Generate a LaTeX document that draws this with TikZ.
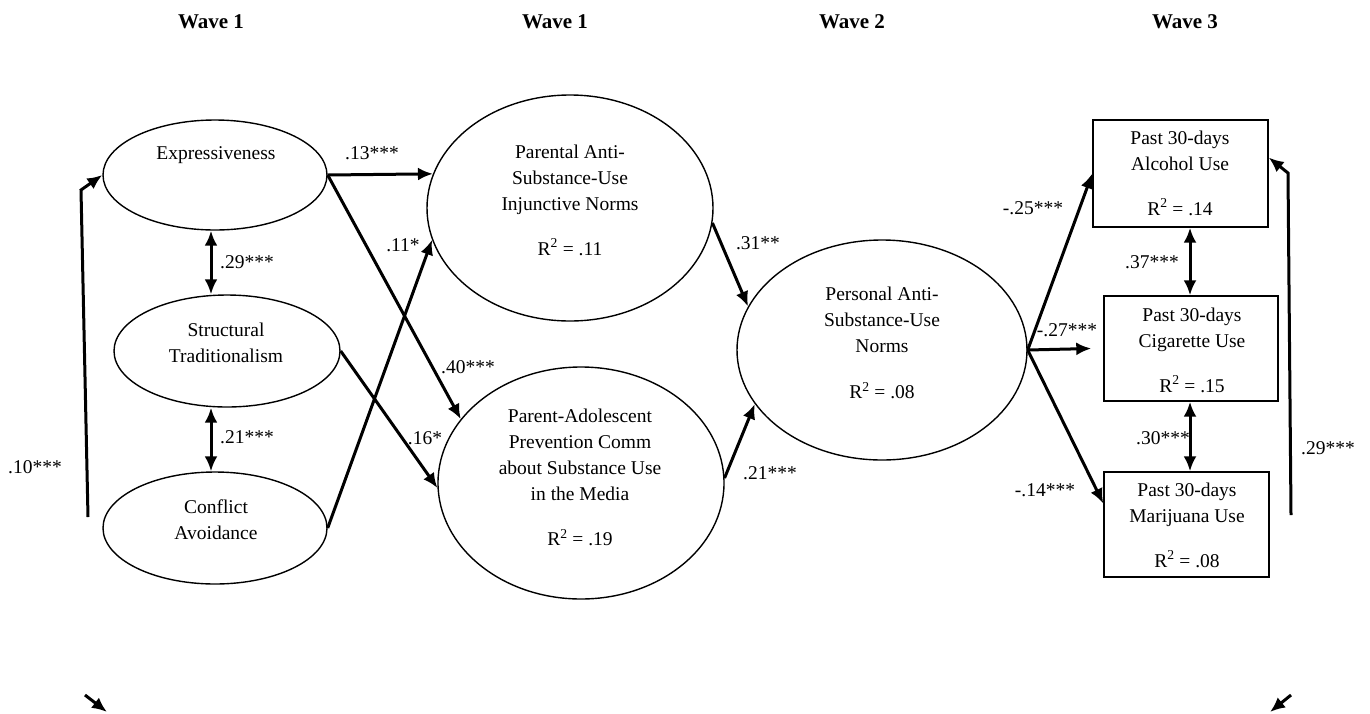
\documentclass[tikz,border=0pt]{standalone}
\usepackage{fontspec}
\setmainfont{Liberation Serif}
\usetikzlibrary{shapes.geometric,arrows.meta,calc}
\begin{document}
\begin{tikzpicture}[x=1pt,y=-1pt,
  font=\fontsize{19.5}{26}\selectfont,
  ell/.style={draw,ellipse,line width=1.4pt,inner sep=0pt},
  box/.style={draw,rectangle,line width=1.4pt,inner sep=0pt},
  txt/.style={align=center,inner sep=0pt},
  lab/.style={inner sep=0pt},
  head/.style={font=\fontsize{21}{24}\selectfont\bfseries,inner sep=0pt},
  arr/.style={line width=3pt,-{Latex[length=15pt,width=13pt]}},
  darr/.style={line width=3pt,{Latex[length=15pt,width=13pt]}-{Latex[length=15pt,width=13pt]}},
]
\path[use as bounding box] (0,0) rectangle (1370,713);

% headers
\node[head] (h1) at (211,22) {Wave 1};
\node[head] (h2) at (555,22) {Wave 1};
\node[head] (h3) at (852,22) {Wave 2};
\node[head] (h4) at (1185,22) {Wave 3};

% ellipses
\node[ell,minimum width=224pt,minimum height=110pt] (expr) at (215,175) {};
\node[ell,minimum width=226pt,minimum height=112pt] (stru) at (227,351) {};
\node[ell,minimum width=224pt,minimum height=112pt] (conf) at (215,528) {};
\node[ell,minimum width=286pt,minimum height=226pt] (pare) at (570,208) {};
\node[ell,minimum width=286pt,minimum height=232pt] (padc) at (581,483) {};
\node[ell,minimum width=290pt,minimum height=220pt] (pers) at (882,350) {};

% boxes
\node[box,minimum width=175pt,minimum height=107pt] (alc) at (1180.5,173.5) {};
\node[box,minimum width=174pt,minimum height=105pt] (cig) at (1191,348.5) {};
\node[box,minimum width=165pt,minimum height=105pt] (mar) at (1186.5,524.5) {};

% texts
\node[txt] (texpr) at (216,155) {Expressiveness};
\node[txt] (tstru) at (226,343) {Structural\\Traditionalism};
\node[txt] (tconf) at (216,519.5) {Conflict\\Avoidance};
\node[txt] (tpare) at (570,200) {Parental Anti-\\Substance-Use\\Injunctive Norms\\[19pt]R\textsuperscript{2} = .11};
\node[txt] (tpadc) at (580,477.5) {Parent-Adolescent\\Prevention Comm\\about Substance Use\\in the Media\\[19pt]R\textsuperscript{2} = .19};
\node[txt] (tpers) at (882,343) {Personal Anti-\\Substance-Use\\Norms\\[20pt]R\textsuperscript{2} = .08};
\node[txt] (talc) at (1180,173) {Past 30-days\\Alcohol Use\\[19pt]R\textsuperscript{2} = .14};
\node[txt] (tcig) at (1192,350) {Past 30-days\\Cigarette Use\\[19pt]R\textsuperscript{2} = .15};
\node[txt] (tmar) at (1187,525) {Past 30-days\\Marijuana Use\\[19pt]R\textsuperscript{2} = .08};

% correlations
\draw[darr] ([xshift=-4pt]expr.south) -- ([xshift=-4pt]expr.south |- stru.north);
\draw[darr] ([xshift=-16pt]stru.south) -- ([xshift=-16pt]stru.south |- conf.north);
\draw[darr] ([xshift=9.5pt]alc.south) -- ([xshift=9.5pt]alc.south |- cig.north);
\draw[darr] ([xshift=-1pt]cig.south) -- ([xshift=-1pt]cig.south |- mar.north);

% paths
\draw[arr] (expr.east) -- (pare.166.4);
\draw[arr] (expr.east) -- (padc.152);
\draw[arr] (conf.east) -- (pare.193);
\draw[arr] (stru.east) -- (padc.182);
\draw[arr] (pare.354) -- (pers.162.7);
\draw[arr] (padc.2.4) -- (pers.203.9);
\draw[arr] (pers.east) -- (alc.west);
\draw[arr] (pers.east) -- ([xshift=-12pt]cig.west);
\draw[arr] (pers.east) -- ($(mar.west)+(0,-21)$);

% disturbance-like arrows
\coordinate (l0) at (88,517);
\coordinate (l1) at (81,190);
\draw[arr] (l0) -- (l1) -- (expr.west);
\coordinate (r0) at (1291,515);
\coordinate (r1) at (1288,173);
\draw[arr] (r0) -- (r1) -- ($(alc.east)+(0,-16)$);
\coordinate (bl0) at (85,695);
\coordinate (bl1) at (107,712);
\draw[arr] (bl0) -- (bl1);
\coordinate (br0) at (1291,695);
\coordinate (br1) at (1270,712);
\draw[arr] (br0) -- (br1);

% labels
\node[lab] (l13) at (372,153) {.13***};
\node[lab] (l40) at (468,367) {.40***};
\node[lab] (l11) at (403,245) {.11*};
\node[lab] (l16) at (425,438) {.16*};
\node[lab] (l29a) at (247,262) {.29***};
\node[lab] (l21a) at (247,437) {.21***};
\node[lab] (l10) at (35,467) {.10***};
\node[lab] (l31) at (758,243) {.31**};
\node[lab] (l21b) at (770,473) {.21***};
\node[lab] (l25) at (1033,208) {-.25***};
\node[lab] (l27) at (1067,330) {-.27***};
\node[lab] (l14) at (1045,490) {-.14***};
\node[lab] (l37) at (1152,262) {.37***};
\node[lab] (l30) at (1163,438) {.30***};
\node[lab] (l29b) at (1328,448) {.29***};
\end{tikzpicture}
\end{document}
